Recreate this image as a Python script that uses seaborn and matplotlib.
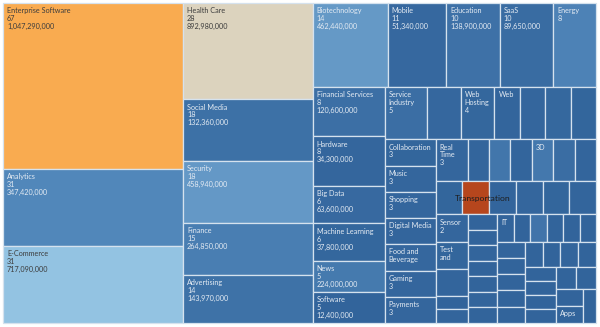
import matplotlib
matplotlib.use("Agg")
import numpy as np
import pandas as pd
import matplotlib.pyplot as plt
import seaborn as sns
from matplotlib.patches import Rectangle
from matplotlib.font_manager import FontProperties
from matplotlib.colors import to_rgb

# ---------------- data ----------------
categories = [
    "Enterprise Software", "Analytics", "E-Commerce",
    "Health Care", "Social Media", "Security", "Finance", "Advertising",
    "Biotechnology", "Mobile", "Education", "SaaS", "Energy",
    "Financial Services", "Hardware", "Big Data", "Machine Learning", "News", "Software",
    "Service Industry", "Manufacturing", "Web Hosting", "Web Development", "Consulting", "Marketplaces", "Networking",
    "Collaboration", "Music", "Shopping", "Digital Media", "Food and Beverage", "Gaming", "Payments",
    "Real Time", "Robotics", "Insurance", "Logistics", "3D Printing", "Wearables", "Messaging",
    "Telecommunications", "Transportation", "Marketing", "Entertainment", "Automotive", "Construction",
    "Sensor", "Test and Measurement", "Agriculture", "Electronics", "Sustainability",
    "Cybersecurity", "Nonprofit", "Publishing", "Recruiting", "Photography", "Navigation", "Cosmetics",
    "IT Management", "Fitness", "Hospitality", "Lifestyle", "Printing", "Wellness",
    "Semiconductors", "Architecture", "Blockchain", "Aerospace", "Crowdfunding",
    "Biometrics", "Genomics", "Furniture", "Gambling",
    "Outsourcing", "Translation", "Ticketing", "Wholesale",
    "Packaging", "Mining",
    "Charities", "Apps",
    "Lighting",
]
companies = [
    67, 31, 31,
    28, 18, 18, 15, 14,
    14, 11, 10, 10, 8,
    8, 8, 6, 6, 5, 5,
    5, 4, 4, 3, 3, 3, 3,
    3, 3, 3, 3, 3, 3, 3,
    3, 2, 2, 2, 2, 2, 2,
    2, 2, 2, 2, 2, 2,
    2, 2, 2, 1, 1,
    1, 1, 1, 1, 1, 1, 1,
    1, 1, 1, 1, 1, 1,
    1, 1, 1, 1, 1,
    1, 1, 1, 1,
    1, 1, 1, 1,
    1, 1,
    1, 1,
    1,
]
funding = [
    1047290000, 347420000, 717090000,
    892980000, 132360000, 458940000, 264850000, 143970000,
    462440000, 51340000, 138900000, 89650000, 305000000,
    120600000, 34300000, 63600000, 37800000, 224000000, 12400000,
    104500000, 41000000, 38500000, 22000000, 30500000, 47000000, 26000000,
    28000000, 31000000, 35000000, 24000000, 40000000, 33000000, 29000000,
    36000000, 21000000, 190000000, 25000000, 205000000, 95000000, 18000000,
    27000000, 60000000, 22000000, 30000000, 26000000, 19000000,
    34000000, 28000000, 23000000, 15000000, 17000000,
    12000000, 14000000, 20000000, 16000000, 11000000, 18000000, 13000000,
    15000000, 12000000, 170000000, 14000000, 16000000, 13000000,
    18000000, 11000000, 15000000, 12000000, 14000000,
    16000000, 13000000, 17000000, 12000000,
    15000000, 14000000, 13000000, 16000000,
    12000000, 14000000,
    15000000, 13000000,
    12000000,
]
highlight_colors = {"Enterprise Software": "#F9AB50",
                    "Health Care": "#DCD3BE",
                    "Transportation": "#B6461D"}
annotated = "Transportation"

df = pd.DataFrame({"category": categories, "companies": companies, "funding": funding})

# ---------------- layout (Tableau-like strip treemap) ----------------
FRAME = (3.0, 3.0, 593.0, 320.0)
STRIPS = [(3, "V"), (5, "V"), (5, "H"), (6, "V"), (7, "H"), (7, "V"), (7, "H"),
          (6, "H"), (5, "V"), (7, "V"), (6, "H"), (5, "V"), (4, "H"), (4, "V"),
          (2, "H"), (2, "V"), (1, "V")]


def strip_treemap(values, frame, strips):
    x, y, w, h = frame
    scale = w * h / float(sum(values))
    rects, i = [], 0
    for n, orient in strips:
        vals = values[i:i + n]
        area = sum(vals) * scale
        if orient == "V":
            t = area / h
            yy = y
            for v in vals:
                hh = v * scale / t
                rects.append((x, yy, t, hh))
                yy += hh
            x += t
            w -= t
        else:
            t = area / w
            xx = x
            for v in vals:
                ww = v * scale / t
                rects.append((xx, y, ww, t))
                xx += ww
            y += t
            h -= t
        i += n
    return rects


rects = strip_treemap(df["companies"].tolist(), FRAME, STRIPS)

# ---------------- style ----------------
sns.set_theme(style="white")
plt.rcParams["font.family"] = ["Lato", "DejaVu Sans"]

blue_cmap = sns.blend_palette(["#31639A", "#5288BB", "#93C3E2"], as_cmap=True)
fmax = 717090000.0

fig = plt.figure(figsize=(6.0, 3.27), dpi=100)
ax = fig.add_axes([0, 0, 1, 1])
ax.set_xlim(0, 600)
ax.set_ylim(327, 0)
ax.axis("off")
fig.patch.set_facecolor("white")

renderer = fig.canvas.get_renderer()
LABEL_SIZE = 5.2
fp = FontProperties(family=["Lato", "DejaVu Sans"], size=LABEL_SIZE)
LINE_H = 7.9
PAD_L, PAD_R, PAD_T = 4.0, 3.0, 4.2


def text_w(s):
    w, _, _ = renderer.get_text_width_height_descent(s, fp, ismath=False)
    return w


def wrap_name(name, maxw):
    words = name.split()
    lines, cur = [], ""
    for wd in words:
        cand = wd if not cur else cur + " " + wd
        if text_w(cand) <= maxw:
            cur = cand
        else:
            if cur:
                lines.append(cur)
            if text_w(wd) > maxw:
                return lines, False
            cur = wd
    if cur:
        lines.append(cur)
    return lines, True


for (x, y, w, h), row in zip(rects, df.itertuples()):
    if row.category in highlight_colors:
        fc = highlight_colors[row.category]
    else:
        t = min(row.funding / fmax, 1.0)
        fc = blue_cmap(t)
    ax.add_patch(Rectangle((x, y), w, h, facecolor=fc, edgecolor="#d5e2ee",
                           linewidth=0.9, zorder=1))
    if row.category == annotated:
        continue
    r, g, b = to_rgb(fc)
    lum = 0.299 * r + 0.587 * g + 0.114 * b
    tc = "#3c3c3c" if lum > 0.62 else "#e4ebf3"

    maxw = w - PAD_L - PAD_R
    name_lines, complete = wrap_name(row.category, maxw)
    lines = list(name_lines)
    if complete:
        for extra in [f"{row.companies}", f"{row.funding:,.0f}"]:
            if text_w(extra) <= maxw:
                lines.append(extra)
            else:
                break
    shown = []
    for k, ln in enumerate(lines):
        if PAD_T + (k + 1) * LINE_H <= h - 1.0:
            shown.append(ln)
        else:
            break
    for k, ln in enumerate(shown):
        ax.text(x + PAD_L, y + PAD_T + k * LINE_H, ln, fontproperties=fp,
                color=tc, ha="left", va="top", zorder=2)

# annotation for the highlighted category
idx = categories.index(annotated)
x, y, w, h = rects[idx]
ax.text(x - 7, y + h / 2 + 0.5, annotated, fontsize=6.1, color="#1e1e1e",
        ha="left", va="center", zorder=3, family=["Lato", "DejaVu Sans"])

fig.savefig("out.png", dpi=100, facecolor="white")
